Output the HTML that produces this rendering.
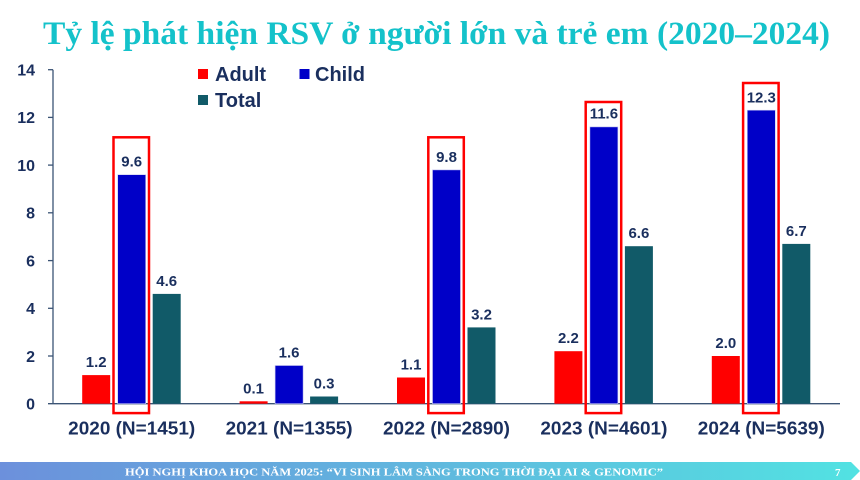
<!DOCTYPE html>
<html>
<head>
<meta charset="utf-8">
<style>
  html, body { margin: 0; padding: 0; background: #ffffff; }
  body { width: 860px; height: 480px; overflow: hidden; }
  svg { display: block; }
</style>
</head>
<body>
<svg width="860" height="480" viewBox="0 0 860 480" xmlns="http://www.w3.org/2000/svg">
  <defs>
    <linearGradient id="fg" x1="0" y1="0" x2="1" y2="0">
      <stop offset="0" stop-color="#6c90dc"/>
      <stop offset="0.5" stop-color="#60b8de"/>
      <stop offset="1" stop-color="#52e2e2"/>
    </linearGradient>
  </defs>

  <!-- Title -->
  <text x="43" y="44" textLength="787" lengthAdjust="spacingAndGlyphs"
        font-family="'Liberation Serif', 'Noto Serif CJK SC', serif" font-weight="bold"
        font-size="33" fill="#14c2ca">Tỷ lệ phát hiện RSV ở người lớn và trẻ em (2020–2024)</text>

  <!-- Legend -->
  <g font-family="'Liberation Sans', sans-serif" font-weight="bold" font-size="20" fill="#1a2f5e">
    <rect x="198" y="69" width="10" height="10" fill="#ff0000"/>
    <text x="215" y="81">Adult</text>
    <rect x="299.5" y="69" width="10" height="10" fill="#0000c8"/>
    <text x="315" y="81">Child</text>
    <rect x="198" y="95" width="10" height="10" fill="#115a68"/>
    <text x="215" y="107">Total</text>
  </g>

  <!-- Y axis -->
  <g stroke="#3b5475" stroke-width="1.3">
    <line x1="53" y1="69.7" x2="53" y2="403.7"/>
    <line x1="48" y1="403.7" x2="840" y2="403.7"/>
    <line x1="48" y1="69.7" x2="53" y2="69.7"/>
    <line x1="48" y1="117.4" x2="53" y2="117.4"/>
    <line x1="48" y1="165.1" x2="53" y2="165.1"/>
    <line x1="48" y1="212.8" x2="53" y2="212.8"/>
    <line x1="48" y1="260.6" x2="53" y2="260.6"/>
    <line x1="48" y1="308.3" x2="53" y2="308.3"/>
    <line x1="48" y1="356.0" x2="53" y2="356.0"/>
  </g>
  <g font-family="'Liberation Sans', sans-serif" font-weight="bold" font-size="16" fill="#1a2f5e" text-anchor="end">
    <text x="35" y="75.5">14</text>
    <text x="35" y="123.2">12</text>
    <text x="35" y="170.9">10</text>
    <text x="35" y="218.6">8</text>
    <text x="35" y="266.4">6</text>
    <text x="35" y="314.1">4</text>
    <text x="35" y="361.8">2</text>
    <text x="35" y="409.5">0</text>
  </g>

  <!-- Bars -->
  <!-- scale: 23.857 px/unit, baseline 403.7 -->
  <!-- 2020 c=131.7 -->
  <rect x="82.2" y="375.1" width="28" height="28.6" fill="#ff0000"/>
  <rect x="117.7" y="174.7" width="28" height="229.0" fill="#0000c8" stroke="#c8c8f0" stroke-width="0.6"/>
  <rect x="152.7" y="293.9" width="28" height="109.8" fill="#115a68"/>
  <!-- 2021 c=289.1 -->
  <rect x="239.6" y="401.3" width="28" height="2.4" fill="#ff0000"/>
  <rect x="275.1" y="365.5" width="28" height="38.2" fill="#0000c8" stroke="#c8c8f0" stroke-width="0.6"/>
  <rect x="310.1" y="396.5" width="28" height="7.2" fill="#115a68"/>
  <!-- 2022 c=446.5 -->
  <rect x="397.0" y="377.5" width="28" height="26.2" fill="#ff0000"/>
  <rect x="432.5" y="169.9" width="28" height="233.8" fill="#0000c8" stroke="#c8c8f0" stroke-width="0.6"/>
  <rect x="467.5" y="327.4" width="28" height="76.3" fill="#115a68"/>
  <!-- 2023 c=603.9 -->
  <rect x="554.4" y="351.2" width="28" height="52.5" fill="#ff0000"/>
  <rect x="589.9" y="126.9" width="28" height="276.8" fill="#0000c8" stroke="#c8c8f0" stroke-width="0.6"/>
  <rect x="624.9" y="246.2" width="28" height="157.5" fill="#115a68"/>
  <!-- 2024 c=761.3 -->
  <rect x="711.8" y="356.0" width="28" height="47.7" fill="#ff0000"/>
  <rect x="747.3" y="110.2" width="28" height="293.5" fill="#0000c8" stroke="#c8c8f0" stroke-width="0.6"/>
  <rect x="782.3" y="243.9" width="28" height="159.8" fill="#115a68"/>

  <!-- Red highlight boxes -->
  <g fill="none" stroke="#ff0000" stroke-width="2.5">
    <rect x="113.5" y="137.3" width="35.5" height="275.8"/>
    <rect x="428.3" y="137.3" width="35.5" height="275.8"/>
    <rect x="585.7" y="102" width="35.5" height="311.1"/>
    <rect x="743.1" y="83" width="35.5" height="330.1"/>
  </g>

  <!-- Value labels -->
  <g font-family="'Liberation Sans', sans-serif" font-weight="bold" font-size="15" fill="#1a2f5e" text-anchor="middle">
    <text x="96.2" y="367.1">1.2</text>
    <text x="131.7" y="166.7">9.6</text>
    <text x="166.7" y="285.9">4.6</text>

    <text x="253.6" y="393.3">0.1</text>
    <text x="289.1" y="357.5">1.6</text>
    <text x="324.1" y="388.5">0.3</text>

    <text x="411.0" y="369.5">1.1</text>
    <text x="446.5" y="161.9">9.8</text>
    <text x="481.5" y="319.4">3.2</text>

    <text x="568.4" y="343.2">2.2</text>
    <text x="603.9" y="118.4">11.6</text>
    <text x="638.9" y="238.2">6.6</text>

    <text x="725.8" y="348.0">2.0</text>
    <text x="761.3" y="102.6">12.3</text>
    <text x="796.3" y="235.9">6.7</text>
  </g>

  <!-- Category labels -->
  <g font-family="'Liberation Sans', sans-serif" font-weight="bold" font-size="18" fill="#1a2f5e" text-anchor="middle">
    <text x="131.7" y="434.3" textLength="127" lengthAdjust="spacingAndGlyphs">2020 (N=1451)</text>
    <text x="289.1" y="434.3" textLength="127" lengthAdjust="spacingAndGlyphs">2021 (N=1355)</text>
    <text x="446.5" y="434.3" textLength="127" lengthAdjust="spacingAndGlyphs">2022 (N=2890)</text>
    <text x="603.9" y="434.3" textLength="127" lengthAdjust="spacingAndGlyphs">2023 (N=4601)</text>
    <text x="761.3" y="434.3" textLength="127" lengthAdjust="spacingAndGlyphs">2024 (N=5639)</text>
  </g>

  <!-- Footer band -->
  <polygon points="0,462 851,462 860,471 851,480 0,480" fill="url(#fg)"/>
  <text x="125" y="475.5" textLength="538" lengthAdjust="spacingAndGlyphs"
        font-family="'Liberation Serif', serif" font-weight="bold" font-size="11" fill="#ffffff">HỘI NGHỊ KHOA HỌC NĂM 2025: “VI SINH LÂM SÀNG TRONG THỜI ĐẠI AI &amp; GENOMIC”</text>
  <text x="835" y="476" font-family="'Liberation Serif', serif" font-weight="bold" font-size="11" fill="#ffffff">7</text>
</svg>
</body>
</html>
